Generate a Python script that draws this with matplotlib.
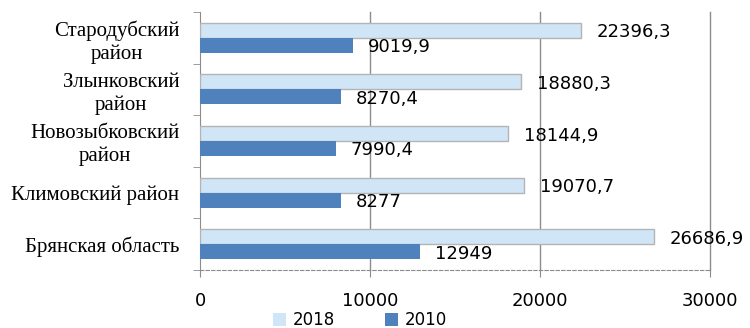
import matplotlib.pyplot as plt
import numpy as np
from matplotlib.patches import Patch

# districts, top to bottom
categories = ["Стародубский\nрайон", "Злынковский\nрайон", "Новозыбковский\nрайон",
              "Климовский район", "Брянская область"]
values_2018 = [22396.3, 18880.3, 18144.9, 19070.7, 26686.9]
values_2010 = [9019.9, 8270.4, 7990.4, 8277, 12949]
labels_2018 = ["22396,3", "18880,3", "18144,9", "19070,7", "26686,9"]
labels_2010 = ["9019,9", "8270,4", "7990,4", "8277", "12949"]
xticks = [0, 10000, 20000, 30000]

C_2018 = "#d0e5f6"
C_2010 = "#4f81bd"
GRID = "#8c8c8c"
BAR_H = 0.29

fig = plt.figure(figsize=(7.5, 3.28), dpi=100)
ax = fig.add_axes([200 / 750, 1 - 270 / 328, 510 / 750, 258 / 328])

y = np.arange(len(categories))
ax.barh(y - BAR_H / 2, values_2018, height=BAR_H, color=C_2018,
        edgecolor="#b4b4b4", linewidth=1, zorder=3)
ax.barh(y + BAR_H / 2, values_2010, height=BAR_H, color=C_2010, zorder=3)

for yi, v, s in zip(y, values_2018, labels_2018):
    ax.annotate(s, (v, yi - BAR_H / 2), xytext=(16, -2), textcoords="offset pixels",
                ha="left", va="center", fontsize=13, family="DejaVu Sans")
for yi, v, s in zip(y, values_2010, labels_2010):
    ax.annotate(s, (v, yi + BAR_H / 2), xytext=(15, -2), textcoords="offset pixels",
                ha="left", va="center", fontsize=13, family="DejaVu Sans")

ax.set_xlim(0, 30000)
ax.set_ylim(len(categories) - 0.5, -0.5)

ax.set_xticks(xticks)
ax.set_xticklabels([str(t) for t in xticks], fontsize=13, family="DejaVu Sans")
ax.tick_params(axis="x", length=5, color=GRID, pad=11)
for t in xticks[1:]:
    ax.axvline(t, color=GRID, linewidth=1, zorder=1, clip_on=False)

ax.set_yticks(y)
ax.set_yticklabels(categories, fontsize=15, family="Liberation Serif",
                   multialignment="center", linespacing=1.25)
ax.tick_params(axis="y", which="major", length=0, pad=15)
ax.set_yticks(np.arange(-0.5, len(categories)), minor=True)
ax.tick_params(axis="y", which="minor", length=5, color=GRID)

for side in ("top", "right"):
    ax.spines[side].set_visible(False)
ax.spines["left"].set_color(GRID)
ax.spines["bottom"].set_color(GRID)
ax.spines["bottom"].set_linestyle((0, (3, 2)))

handles = [Patch(facecolor=C_2018, label="2018"), Patch(facecolor=C_2010, label="2010")]
fig.legend(handles=handles, loc="center", bbox_to_anchor=(360 / 750, 1 - 320 / 328),
           ncol=2, frameon=False, handlelength=0.8, handleheight=0.8,
           handletextpad=0.4, columnspacing=3.0, prop={"family": "DejaVu Sans", "size": 12})

fig.savefig("out.png", dpi=100)
